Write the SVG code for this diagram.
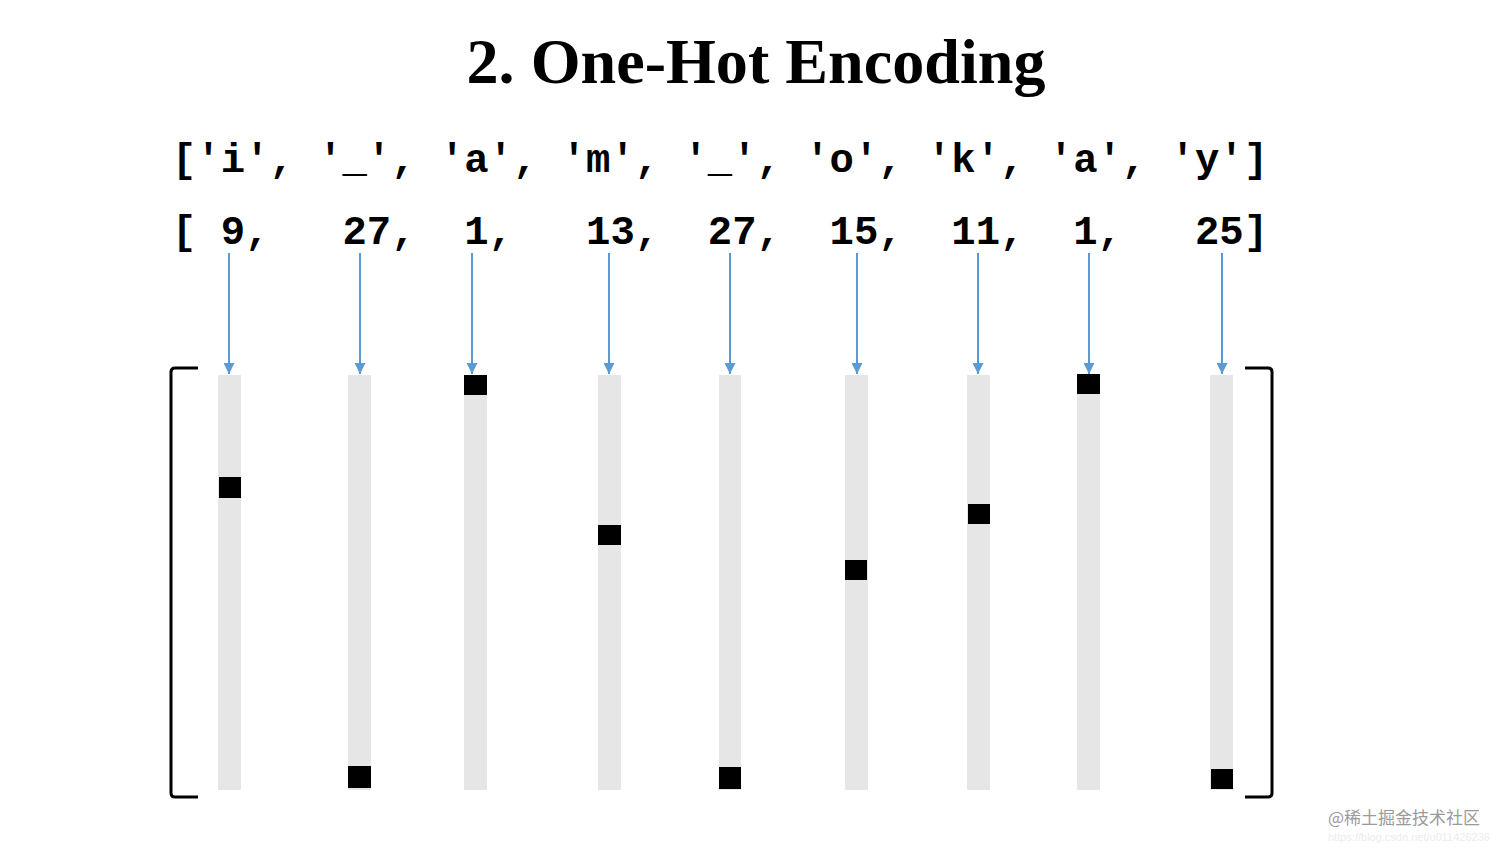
<svg xmlns="http://www.w3.org/2000/svg" width="1512" height="851" viewBox="0 0 1512 851">
<style>
.title{font-family:"Liberation Serif","DejaVu Serif",serif;font-weight:bold;font-size:64px;fill:#000}
.code{font-family:"Liberation Mono","DejaVu Sans Mono",monospace;font-weight:bold;font-size:40px;fill:#000;white-space:pre}
.bar{fill:#E6E6E6}
.hot{fill:#000}
.arr{stroke:#5B9BD5;stroke-width:2;fill:none}
.br{stroke:#000;stroke-width:3;fill:none;stroke-linejoin:round}
.wm{font-family:"Noto Sans CJK SC","Liberation Sans",sans-serif;font-size:17px;fill:#9a9a9a}
.wm2{font-family:"Liberation Sans",sans-serif;font-size:11px;fill:#ececec}
</style>
<defs>
<marker id="ah" viewBox="0 0 10 10" refX="10" refY="5" markerWidth="5.5" markerHeight="5.5" orient="auto" markerUnits="strokeWidth">
<path d="M0,0 L10,5 L0,10 z" fill="#5B9BD5"/>
</marker>
</defs>
<rect width="1512" height="851" fill="#fff"/>
<text class="title" x="756" y="83" text-anchor="middle" textLength="579" lengthAdjust="spacingAndGlyphs">2. One-Hot Encoding</text>
<text class="code" x="172" y="172" textLength="1096" lengthAdjust="spacingAndGlyphs">['i', '_', 'a', 'm', '_', 'o', 'k', 'a', 'y']</text>
<text class="code" x="172" y="244" textLength="1096" lengthAdjust="spacingAndGlyphs">[ 9,   27,  1,   13,  27,  15,  11,  1,   25]</text>
<g id="brackets">
<path class="br" d="M198,368 L175,368 Q171,368 171,372 L171,793 Q171,797 175,797 L198,797"/>
<path class="br" d="M1245,368 L1268,368 Q1272,368 1272,372 L1272,793 Q1272,797 1268,797 L1245,797"/>
</g>
<g id="col1"><rect class="bar" x="218" y="375" width="23" height="415"/><rect class="hot" x="219" y="477" width="22" height="21"/></g>
<g id="col2"><rect class="bar" x="348" y="375" width="23" height="415"/><rect class="hot" x="348" y="766" width="23" height="22"/></g>
<g id="col3"><rect class="bar" x="464" y="375" width="23" height="415"/><rect class="hot" x="464" y="375" width="23" height="20"/></g>
<g id="col4"><rect class="bar" x="598" y="375" width="23" height="415"/><rect class="hot" x="598" y="525" width="23" height="20"/></g>
<g id="col5"><rect class="bar" x="719" y="375" width="22" height="415"/><rect class="hot" x="719" y="767" width="22" height="22"/></g>
<g id="col6"><rect class="bar" x="845" y="375" width="23" height="415"/><rect class="hot" x="845" y="560" width="22" height="20"/></g>
<g id="col7"><rect class="bar" x="967" y="375" width="23" height="415"/><rect class="hot" x="968" y="504" width="22" height="20"/></g>
<g id="col8"><rect class="bar" x="1077" y="375" width="23" height="415"/><rect class="hot" x="1077" y="374" width="23" height="20"/></g>
<g id="col9"><rect class="bar" x="1210" y="375" width="23" height="415"/><rect class="hot" x="1211" y="769" width="22" height="20"/></g>
<g id="connectors">
<line class="arr" x1="229" y1="253" x2="229" y2="374" marker-end="url(#ah)"/>
<line class="arr" x1="360" y1="253" x2="360" y2="374" marker-end="url(#ah)"/>
<line class="arr" x1="472" y1="253" x2="472" y2="374" marker-end="url(#ah)"/>
<line class="arr" x1="609" y1="253" x2="609" y2="374" marker-end="url(#ah)"/>
<line class="arr" x1="730" y1="253" x2="730" y2="374" marker-end="url(#ah)"/>
<line class="arr" x1="857" y1="253" x2="857" y2="374" marker-end="url(#ah)"/>
<line class="arr" x1="978" y1="253" x2="978" y2="374" marker-end="url(#ah)"/>
<line class="arr" x1="1089" y1="253" x2="1089" y2="374" marker-end="url(#ah)"/>
<line class="arr" x1="1222" y1="253" x2="1222" y2="374" marker-end="url(#ah)"/>
</g>
<text class="wm" x="1328" y="824">@稀土掘金技术社区</text>
<text class="wm2" x="1328" y="841">https://blog.csdn.net/u011426236</text>
</svg>
